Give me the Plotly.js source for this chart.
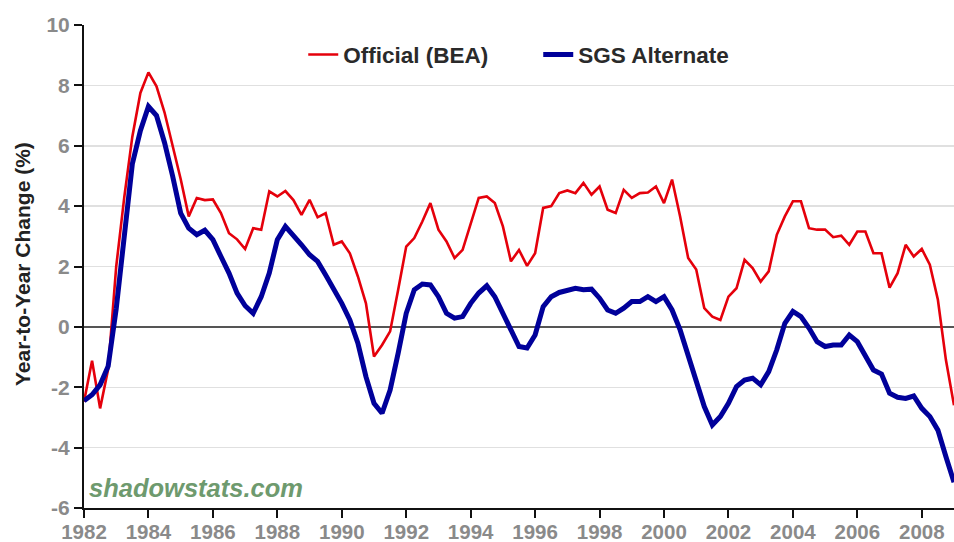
<!DOCTYPE html>
<html>
<head>
<meta charset="utf-8">
<script src="https://cdn.plot.ly/plotly-3.0.1.min.js"></script>
<style>
  html, body { margin: 0; padding: 0; background: #fff; }
  #chart { width: 954px; height: 542px; }
</style>
</head>
<body>
<div id="chart"></div>
<script>
// Quarterly year-to-year change (%), 1982 Q1 through 2009 Q1
const startYear = 1982;
const official = [
  -2.48, -1.12, -2.70, -1.40,   // 1982
   2.00,  4.30,  6.30,  7.75,   // 1983
   8.43,  7.97,  7.10,  6.00,   // 1984
   4.90,  3.66,  4.27,  4.20,   // 1985
   4.22,  3.77,  3.10,  2.90,   // 1986
   2.58,  3.27,  3.22,  4.49,   // 1987
   4.32,  4.50,  4.20,  3.71,   // 1988
   4.21,  3.63,  3.77,  2.72,   // 1989
   2.83,  2.44,  1.67,  0.78,   // 1990
  -0.98, -0.60, -0.15,  1.23,   // 1991
   2.66,  2.94,  3.49,  4.10,   // 1992
   3.22,  2.83,  2.28,  2.55,   // 1993
   3.38,  4.27,  4.32,  4.10,   // 1994
   3.33,  2.17,  2.55,  2.02,   // 1995
   2.44,  3.94,  4.00,  4.43,   // 1996
   4.52,  4.43,  4.77,  4.38,   // 1997
   4.65,  3.88,  3.77,  4.54,   // 1998
   4.27,  4.43,  4.45,  4.65,   // 1999
   4.10,  4.88,  3.66,  2.28,   // 2000
   1.90,  0.62,  0.34,  0.23,   // 2001
   1.00,  1.28,  2.22,  1.95,   // 2002
   1.50,  1.84,  3.05,  3.66,   // 2003
   4.16,  4.16,  3.27,  3.22,   // 2004
   3.22,  2.97,  3.02,  2.72,   // 2005
   3.16,  3.16,  2.44,  2.44,   // 2006
   1.30,  1.78,  2.72,  2.33,   // 2007
   2.58,  2.06,  0.90, -1.10,   // 2008
  -2.60                          // 2009
];
const sgsAlternate = [
  -2.45, -2.25, -1.92, -1.30,   // 1982
   0.60,  3.20,  5.40,  6.50,   // 1983
   7.30,  7.00,  6.10,  5.00,   // 1984
   3.77,  3.27,  3.05,  3.20,   // 1985
   2.89,  2.33,  1.78,  1.12,   // 1986
   0.70,  0.45,  1.00,  1.78,   // 1987
   2.89,  3.33,  3.05,  2.72,   // 1988
   2.39,  2.17,  1.72,  1.28,   // 1989
   0.78,  0.23, -0.54, -1.65,   // 1990
  -2.53, -2.86, -2.09, -0.87,   // 1991
   0.45,  1.23,  1.42,  1.39,   // 1992
   1.00,  0.45,  0.29,  0.34,   // 1993
   0.78,  1.12,  1.36,  1.00,   // 1994
   0.45, -0.15, -0.65, -0.70,   // 1995
  -0.27,  0.67,  1.00,  1.14,   // 1996
   1.23,  1.28,  1.23,  1.25,   // 1997
   0.95,  0.56,  0.45,  0.62,   // 1998
   0.84,  0.84,  1.00,  0.84,   // 1999
   1.00,  0.56, -0.10, -0.98,   // 2000
  -1.87, -2.64, -3.25, -2.97,   // 2001
  -2.53, -1.98, -1.76, -1.70,   // 2002
  -1.92, -1.48, -0.76,  0.12,   // 2003
   0.51,  0.34, -0.04, -0.49,   // 2004
  -0.65, -0.60, -0.60, -0.27,   // 2005
  -0.49, -0.98, -1.43, -1.56,   // 2006
  -2.20, -2.33, -2.37, -2.29,   // 2007
  -2.70, -2.97, -3.42, -4.30,   // 2008
  -5.15                          // 2009
];
const xTickVals = [1982, 1984, 1986, 1988, 1990, 1992, 1994, 1996, 1998, 2000, 2002, 2004, 2006, 2008];
const xTickText = ['1982','1984','1986','1988','1990','1992','1994','1996','1998','2000','2002','2004','2006','2008'];
const yTickVals = [10, 8, 6, 4, 2, 0, -2, -4, -6];
const yTickText = ['10','8','6','4','2','0','-2','-4','-6'];

// x position of each quarter (decimal year)
const quarters = official.map((_, i) => startYear + i / 4);

const FONT = 'Liberation Sans, Arial, Helvetica, sans-serif';

const traces = [
  {
    x: quarters, y: official, type: 'scatter', mode: 'lines',
    name: 'Official (BEA)',
    line: { color: '#e5000b', width: 2.6 }
  },
  {
    x: quarters, y: sgsAlternate, type: 'scatter', mode: 'lines',
    name: 'SGS Alternate',
    line: { color: '#00009a', width: 5 }
  }
];

const layout = {
  width: 954, height: 542,
  margin: { l: 84, r: 0, t: 25, b: 34 },
  paper_bgcolor: '#ffffff', plot_bgcolor: '#ffffff',
  font: { family: FONT },
  showlegend: true,
  legend: {
    orientation: 'h', x: 0.252, xanchor: 'left', y: 0.938, yanchor: 'middle',
    entrywidth: 190, entrywidthmode: 'pixels',
    font: { family: FONT, size: 22.5, color: '#2a2a2a', weight: 'bold' },
    bgcolor: 'rgba(0,0,0,0)', borderwidth: 0
  },
  xaxis: {
    range: [1982, 2009], fixedrange: true,
    tickmode: 'array', tickvals: xTickVals, ticktext: xTickText,
    showgrid: false, zeroline: false,
    showline: true, linecolor: '#111', linewidth: 2,
    ticks: 'outside', ticklen: 8, tickwidth: 2, tickcolor: '#111',
    ticklabelstandoff: -4,
    tickfont: { family: FONT, size: 20.5, color: '#8a8a8a', weight: 'bold' }
  },
  yaxis: {
    range: [-6, 10], fixedrange: true,
    tickmode: 'array', tickvals: yTickVals, ticktext: yTickText,
    showgrid: true, gridcolor: '#e0e0e0', gridwidth: 1.5,
    zeroline: true, zerolinecolor: '#555555', zerolinewidth: 1.6,
    showline: true, linecolor: '#111', linewidth: 2,
    ticks: 'outside', ticklen: 8, tickwidth: 2, tickcolor: '#111',
    tickfont: { family: FONT, size: 21, color: '#8a8a8a', weight: 'bold' }
  },
  annotations: [
    {
      text: 'Year-to-Year Change (%)', textangle: -90,
      xref: 'paper', yref: 'paper', x: -0.0713, y: 0.505,
      xanchor: 'center', yanchor: 'middle', showarrow: false,
      font: { family: FONT, size: 21, color: '#222222', weight: 'bold' }
    },
    {
      text: 'shadowstats.com',
      xref: 'paper', yref: 'paper', x: 0.004, y: 0.041,
      xanchor: 'left', yanchor: 'middle', showarrow: false,
      font: { family: FONT, size: 25.5, color: '#6e9a6e', weight: 'bold', style: 'italic' }
    }
  ]
};

Plotly.newPlot('chart', traces, layout, { staticPlot: true, displayModeBar: false });
</script>
</body>
</html>
